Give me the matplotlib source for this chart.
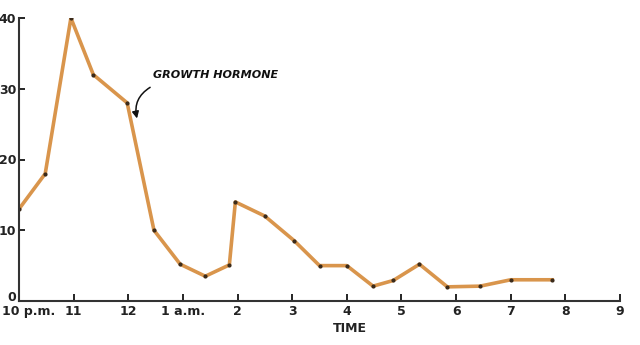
import matplotlib
matplotlib.use("Agg")
import matplotlib.pyplot as plt
from matplotlib.transforms import ScaledTranslation

# hours after 10 p.m.
hours = [0.0, 0.48, 0.95, 1.36, 1.98, 2.47, 2.95, 3.41, 3.85, 3.96,
         4.5, 5.04, 5.5, 6.0, 6.48, 6.85, 7.33, 7.84, 8.44, 9.0, 9.76]
growth_hormone = [13, 18, 40, 32, 28, 10, 5.2, 3.5, 5.1, 14,
                  12, 8.5, 5.0, 5.0, 2.1, 2.9, 5.2, 2.0, 2.1, 3.0, 3.0]

tick_pos = list(range(12))
tick_labels = ["10 p.m.", "11", "12", "1 a.m.", "2", "3", "4", "5", "6", "7", "8", "9"]
y_ticks = [0, 10, 20, 30, 40]

fig = plt.figure(figsize=(6.4, 3.45), dpi=100)
ax = fig.add_axes([19 / 640, 1 - 301 / 345, (620 - 19) / 640, (301 - 18) / 345])

ax.plot(hours, growth_hormone, color="#d9954c", linewidth=2.6,
        marker="o", markersize=2.0, markerfacecolor="#3a2a1a",
        markeredgecolor="#3a2a1a", solid_joinstyle="round")

ax.set_xlim(0, 11)
ax.set_ylim(0, 40)
ax.set_xticks(tick_pos)
ax.set_xticklabels(tick_labels, fontsize=9, fontweight="bold", color="#222222")
ax.set_yticks(y_ticks)
ax.set_yticklabels([str(v) for v in y_ticks], fontsize=9, fontweight="bold", color="#222222")
ax.tick_params(axis="x", direction="in", length=5, width=1.2, pad=3)
ax.tick_params(axis="y", direction="in", length=4, width=1.2, pad=2)

# first x label sits right of the corner, like the hand lettering
first = ax.get_xticklabels()[0]
first.set_horizontalalignment("left")
first.set_transform(first.get_transform() + ScaledTranslation(-17 / 100, 0, fig.dpi_scale_trans))
# the "0" sits a little above the corner
zero = ax.get_yticklabels()[0]
zero.set_verticalalignment("bottom")
zero.set_transform(zero.get_transform() + ScaledTranslation(0, -3 / 100, fig.dpi_scale_trans))

for side in ("top", "right"):
    ax.spines[side].set_visible(False)
for side in ("left", "bottom"):
    ax.spines[side].set_linewidth(1.5)
    ax.spines[side].set_color("#333333")

ax.set_xlabel("TIME", fontsize=9, fontweight="bold", color="#222222", labelpad=1)
ax.xaxis.set_label_coords(0.55, -0.075)

ax.text(2.45, 31.9, "GROWTH HORMONE", fontsize=8, fontstyle="italic",
        fontweight="bold", color="#111111", va="center", ha="left")
ax.annotate("", xy=(2.16, 25.8), xytext=(2.4, 30.2),
            arrowprops=dict(arrowstyle="-|>", color="#111111", lw=1.1,
                            connectionstyle="arc3,rad=0.35", shrinkA=0, shrinkB=0))

fig.savefig("out.png", dpi=100)
plt.close(fig)
